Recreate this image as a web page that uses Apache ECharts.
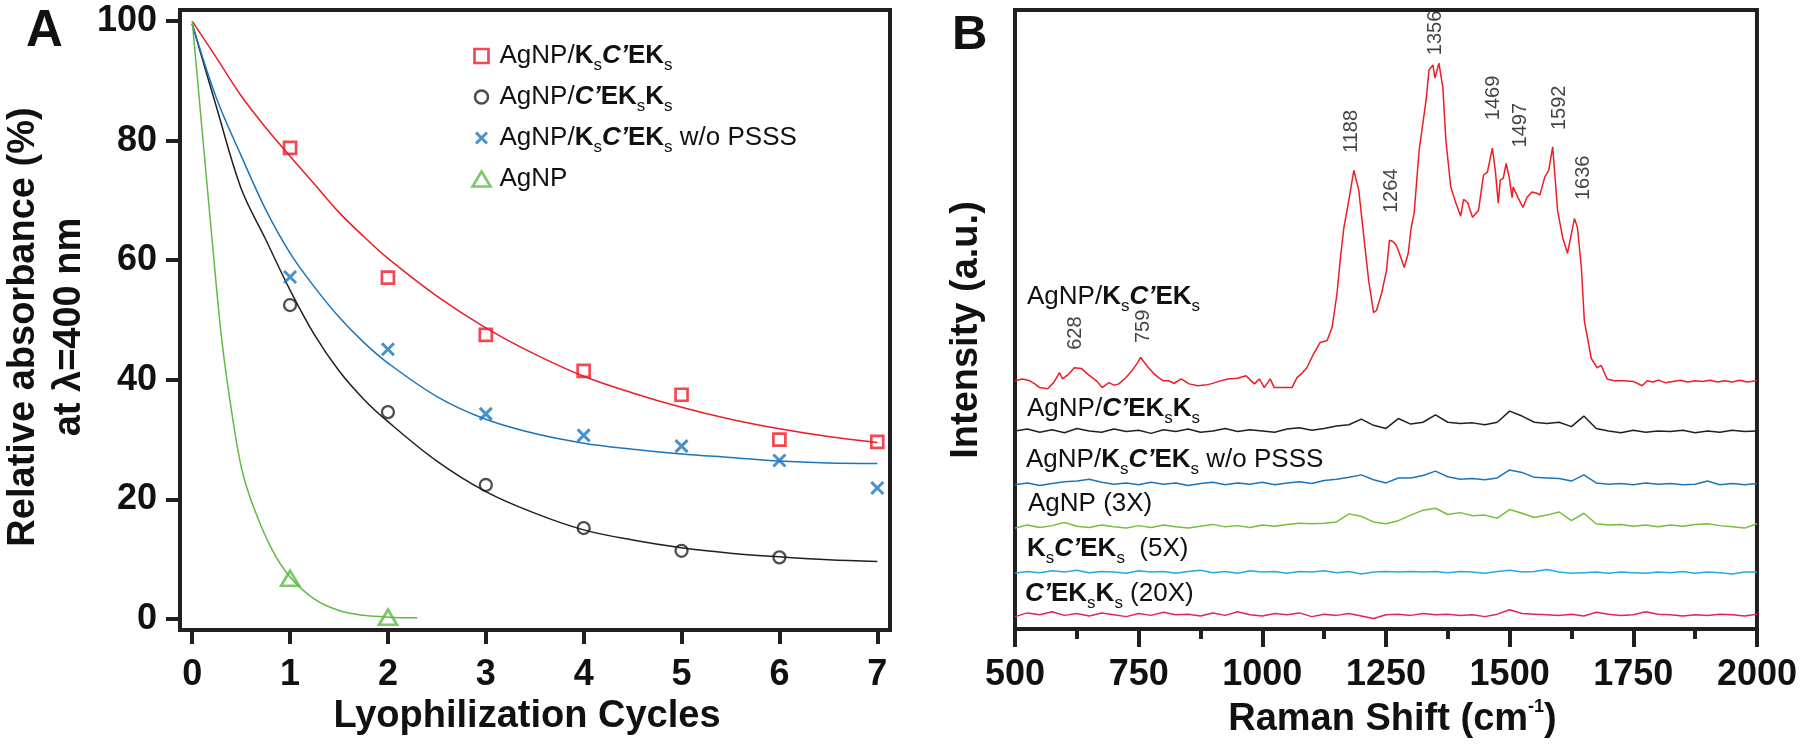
<!DOCTYPE html>
<html><head><meta charset="utf-8">
<script src="https://cdn.jsdelivr.net/npm/echarts@6/dist/echarts.min.js"></script>
<style>html,body{margin:0;padding:0;background:#fff}#c{width:1800px;height:746px}</style>
</head><body><div id="c"></div>
<script>
// ---------------- Panel A data ----------------
const cyclesTicks = [0, 1, 2, 3, 4, 5, 6, 7];
const absTicks = [0, 20, 40, 60, 80, 100];
const cyclesKsCEKs = [1, 2, 3, 4, 5, 6, 7];
const absKsCEKs = [78.8, 57.1, 47.5, 41.5, 37.5, 30.0, 29.6];
const cyclesCEKsKs = [1, 2, 3, 4, 5, 6];
const absCEKsKs = [52.5, 34.6, 22.4, 15.2, 11.4, 10.3];
const cyclesNoPSSS = [1, 2, 3, 4, 5, 6, 7];
const absNoPSSS = [57.2, 45.1, 34.3, 30.7, 28.9, 26.5, 21.9];
const cyclesAgNP = [1, 2];
const absAgNP = [6.8, 0.3];
// fitted curves
const fitX = [0, 0.25, 0.5, 0.75, 1, 1.25, 1.5, 1.75, 2, 2.5, 3, 3.5, 4, 4.5, 5, 5.5, 6, 6.5, 7];
const fitKsCEKs = [100, 93.8, 87.5, 82.2, 77.4, 72.7, 68.0, 64.0, 60.3, 54.0, 48.7, 44.3, 40.6, 37.8, 35.4, 33.4, 31.8, 30.5, 29.5];
const fitCEKsKs = [99.5, 85.5, 72.0, 63.5, 55.0, 47.5, 41.5, 36.8, 33.0, 26.4, 21.3, 17.7, 14.9, 13.2, 11.9, 11.0, 10.4, 9.9, 9.6];
const fitNoPSSS = [99.5, 87.0, 77.5, 68.5, 61.2, 55.5, 50.5, 46.3, 42.8, 37.2, 33.4, 31.0, 29.4, 28.4, 27.6, 27.0, 26.4, 26.1, 26.0];
const fitAgNPX = [0, 0.1, 0.2, 0.3, 0.4, 0.5, 0.6, 0.8, 1.0, 1.25, 1.5, 1.75, 2.0, 2.3];
const fitAgNP = [100, 82, 64, 47, 35, 25.5, 19.9, 12.1, 7.0, 3.3, 1.4, 0.6, 0.3, 0.2];

// ---------------- Panel B data ----------------
const redShift = [500,515,530,540,550,566,578,590,596,606,620,634,645,656,666,676,690,700,710,724,736,746,754,762,770,780,790,800,810,822,836,852,870,884,896,912,930,950,967,976,984,994,1004,1016,1024,1040,1060,1070,1080,1090,1104,1117,1131,1141,1151,1158,1165,1175,1185,1195,1205,1215,1225,1231,1241,1251,1257,1264,1271,1280,1287,1295,1301,1307,1317,1331,1337,1345,1349,1357,1365,1371,1381,1391,1401,1407,1415,1425,1437,1447,1455,1465,1471,1477,1481,1487,1493,1499,1505,1507,1517,1527,1535,1545,1555,1561,1571,1579,1587,1597,1607,1617,1625,1631,1637,1645,1651,1665,1677,1685,1697,1711,1730,1750,1768,1778,1790,1800,1815,1830,1845,1860,1875,1890,1905,1920,1935,1950,1965,1980,2000];
const redIntensity = [40.1,40.4,40.1,39.6,39.0,38.8,39.8,41.4,40.4,41.0,42.2,42.1,41.3,40.6,40.0,39.0,39.8,39.4,39.6,40.6,41.7,42.8,43.9,43.0,42.2,41.3,40.6,40.1,40.1,39.7,40.4,39.6,39.3,39.4,39.6,40.0,40.4,40.5,40.9,40.2,39.6,40.4,39.0,40.4,39.0,39.0,39.0,40.6,41.3,42.2,44.5,46.3,46.6,48.7,54.2,60.0,64.9,69.3,74.1,70.9,63.5,56.3,51.1,51.5,54.2,57.9,62.8,62.6,62.0,60.0,58.4,60.7,64.9,67.2,77.3,85.4,90.3,91.1,89.0,91.4,87.5,79.0,71.4,68.9,66.7,69.4,68.9,66.5,67.6,73.3,73.8,77.7,74.1,68.8,72.5,72.8,75.2,73.0,69.7,71.4,69.7,68.1,69.7,70.6,70.4,70.1,73.0,74.1,77.9,67.6,63.3,60.7,63.9,66.3,64.9,58.4,49.8,43.7,42.2,42.6,40.4,40.1,40.1,40.0,39.3,40.1,39.9,40.2,39.8,40.0,40.2,39.9,40.1,40.0,40.2,39.9,40.1,39.9,40.2,39.9,40.1];
const gridShift = [500,525,550,575,600,625,650,675,700,725,750,775,800,825,850,875,900,925,950,975,1000,1025,1050,1075,1100,1125,1150,1175,1200,1225,1250,1275,1300,1325,1350,1375,1400,1425,1450,1475,1500,1525,1550,1575,1600,1625,1650,1675,1700,1725,1750,1775,1800,1825,1850,1875,1900,1925,1950,1975,2000];
const blackIntensity = [32.0,32.3,31.8,32.2,31.7,32.4,32.0,31.8,32.3,31.9,32.1,31.6,32.2,31.9,32.3,31.8,32.0,32.4,31.9,32.2,32.0,31.8,32.3,32.5,32.1,32.4,32.8,33.0,33.9,32.9,32.4,34.0,33.1,33.4,34.6,33.4,33.2,33.3,33.0,33.4,35.2,34.4,33.4,33.2,33.4,32.7,34.4,32.4,32.0,31.7,32.1,31.8,32.0,31.9,32.1,31.7,32.0,31.8,32.1,31.9,32.0];
const blueIntensity = [23.3,23.6,23.2,23.5,23.8,23.9,24.2,23.7,23.4,23.6,23.3,23.7,23.4,23.6,23.2,23.5,23.7,23.3,23.6,23.4,23.7,23.3,23.6,23.8,23.5,24.0,24.2,24.5,24.9,24.1,23.6,24.4,24.4,24.8,25.5,24.6,24.2,24.3,24.1,24.4,25.7,25.3,24.5,24.4,24.3,23.9,24.9,23.6,23.4,23.5,23.3,23.6,23.4,23.5,23.3,23.4,23.9,23.3,23.5,23.3,23.5];
const greenIntensity = [16.3,16.8,16.4,16.7,17.2,16.6,16.4,16.8,16.5,16.3,16.7,16.4,16.8,16.5,16.3,16.6,16.9,16.5,16.7,16.4,16.8,16.6,16.9,17.1,17.0,17.1,17.3,18.6,18.2,17.3,17.0,17.5,18.4,19.2,19.5,18.5,18.8,18.3,18.4,17.9,19.3,18.7,18.0,18.4,18.9,17.5,18.7,17.0,16.8,16.9,16.6,16.8,16.5,16.8,16.6,16.9,17.0,16.7,16.5,16.3,17.0];
const cyanIntensity = [9.0,9.3,9.1,9.4,9.2,9.5,9.1,9.3,9.2,9.0,9.4,9.2,9.3,9.0,9.3,9.5,9.1,9.3,9.0,9.4,9.2,9.3,9.0,9.3,9.2,9.4,9.1,9.3,8.9,9.2,9.3,9.2,9.3,9.2,9.3,9.1,9.3,9.2,9.0,9.3,9.5,9.2,9.3,9.6,9.2,9.0,9.1,9.2,9.0,9.2,9.1,9.0,9.2,9.1,9.3,9.0,9.2,9.1,8.9,9.2,9.2];
const pinkIntensity = [2.0,2.6,2.3,2.8,2.2,2.5,2.1,2.6,2.3,2.0,2.5,2.2,2.7,2.3,2.4,2.1,2.6,2.2,2.8,2.3,2.1,2.5,2.3,2.6,2.0,2.4,2.2,2.5,2.1,1.7,2.3,2.4,2.2,2.5,2.3,2.4,2.2,2.3,2.0,2.4,3.1,2.5,2.4,2.3,2.2,2.4,2.1,2.7,2.4,2.2,2.3,2.8,2.4,2.3,2.1,2.3,2.2,2.4,2.3,2.1,2.4];
const peakShift = [628, 759, 1188, 1264, 1356, 1469, 1497, 1592, 1636];
const peakLabelShift = [622, 760, 1181, 1261, 1351, 1467, 1521, 1601, 1650];
const peakLabelBase = [45.1, 46.2, 76.9, 67.2, 92.7, 82.2, 77.8, 80.6, 69.3];
const ramanTicks = [500, 750, 1000, 1250, 1500, 1750, 2000];

// ---------------- styling ----------------
const FONT = '"Liberation Sans", Arial, Helvetica, sans-serif';
const INK = '#231f20';
const TXT = '#111111';
const RED = '#ee1c25', BLACK = '#231f20', BLUE = '#1b75bb', GREEN = '#62b946';
const GREEN_B = '#74bf3c', CYAN = '#27a8e0', PINK = '#e2245e';

const richTok = {
  n: {fontFamily: FONT, fontSize: 26, fontWeight: 'normal', lineHeight: 36, color: TXT},
  b: {fontFamily: FONT, fontSize: 26, fontWeight: 'bold', lineHeight: 36, color: TXT},
  bi: {fontFamily: FONT, fontSize: 26, fontWeight: 'bold', fontStyle: 'italic', lineHeight: 36, color: TXT},
  s: {fontFamily: FONT, fontSize: 17, fontWeight: 'normal', lineHeight: 17, verticalAlign: 'bottom', color: TXT}
};

const NAME1 = 'AgNP/KsC’EKs', NAME2 = 'AgNP/C’EKsKs', NAME3 = 'AgNP/KsC’EKs w/o PSSS', NAME4 = 'AgNP';
const legendRich = {};
legendRich[NAME1] = '{n|AgNP/}{b|K}{s|s}{bi|C’}{b|EK}{s|s}';
legendRich[NAME2] = '{n|AgNP/}{bi|C’}{b|EK}{s|s}{b|K}{s|s}';
legendRich[NAME3] = '{n|AgNP/}{b|K}{s|s}{bi|C’}{b|EK}{s|s}{n| w/o PSSS}';
legendRich[NAME4] = '{n|AgNP}';

const traceLabels = [
  {t: '{n|AgNP/}{b|K}{s|s}{bi|C’}{b|EK}{s|s}', x: 1027, y: 297},
  {t: '{n|AgNP/}{bi|C’}{b|EK}{s|s}{b|K}{s|s}', x: 1027, y: 409},
  {t: '{n|AgNP/}{b|K}{s|s}{bi|C’}{b|EK}{s|s}{n| w/o PSSS}', x: 1026, y: 460},
  {t: '{n|AgNP (3X)}', x: 1028, y: 504},
  {t: '{b|K}{s|s}{bi|C’}{b|EK}{s|s}{n|  (5X)}', x: 1027, y: 549},
  {t: '{bi|C’}{b|EK}{s|s}{b|K}{s|s}{n| (20X)}', x: 1025, y: 594}
];

// legend icons: bounding box 20x17 kept by corner moves
const ICON_SQ = 'path://M0,0M20,17M3,1.5h14v14h-14z';
const ICON_CI = 'path://M0,0M20,17M3.5,8.5a6.5,6.5 0 1,0 13,0a6.5,6.5 0 1,0 -13,0z';
const ICON_X = 'path://M0,0M20,17M4.5,3L15.5,14M15.5,3L4.5,14';
const ICON_TR = 'path://M0,0M20,17M10,1L19,16L1,16z';
const SYM_X = 'path://M0,0L10,10M10,0L0,10';

const zip = (a, b) => a.map((v, i) => [v, b[i]]);

const tickLabel = {fontFamily: FONT, fontSize: 36, fontWeight: 'bold', color: TXT};
const titleStyle = {fontFamily: FONT, fontSize: 38, fontWeight: 'bold', color: TXT};

const fitLine = (name, x, y, color) => ({
  name, type: 'line', xAxisIndex: 0, yAxisIndex: 0, data: zip(x, y), smooth: 0.35,
  symbol: 'none', lineStyle: {color, width: 1.5}, silent: true, z: 2
});
const spec = (name, x, y, color) => ({
  name, type: 'line', xAxisIndex: 1, yAxisIndex: 1, data: zip(x, y),
  symbol: 'none', lineStyle: {color, width: 1.5}, silent: true, z: 2
});

const option = {
  animation: false,
  backgroundColor: '#ffffff',
  grid: [
    {left: 160, top: 10, width: 730, height: 620, show: true, borderWidth: 4, borderColor: INK, backgroundColor: 'transparent'},
    {left: 1015, top: 10, width: 750, height: 619, show: true, borderWidth: 4, borderColor: INK, backgroundColor: 'transparent'}
  ],
  xAxis: [
    {
      type: 'value', gridIndex: 0, min: -0.125, max: 7.13,
      name: 'Lyophilization Cycles', nameLocation: 'middle', nameGap: 87,
      nameTextStyle: Object.assign({verticalAlign: 'middle', padding: [0, 16, 0, 0]}, titleStyle),
      axisLine: {onZero: false, lineStyle: {color: INK, width: 4}},
      axisTick: {show: true, length: 14, lineStyle: {color: INK, width: 4}, customValues: cyclesTicks},
      axisLabel: Object.assign({margin: 45, verticalAlign: 'middle', customValues: cyclesTicks, formatter: v => String(v)}, tickLabel),
      splitLine: {show: false}
    },
    {
      type: 'value', gridIndex: 1, min: 500, max: 2000, interval: 250,
      name: '{n|Raman Shift (cm}{sup|-1}{n|)}', nameLocation: 'middle', nameGap: 90,
      nameTextStyle: Object.assign({verticalAlign: 'middle', padding: [0, 0, 0, 13],
        rich: {n: Object.assign({lineHeight: 44}, titleStyle), sup: {fontFamily: FONT, fontSize: 18, fontWeight: 'bold', color: TXT, lineHeight: 30, verticalAlign: 'top'}}}, titleStyle),
      axisLine: {onZero: false, lineStyle: {color: INK, width: 4}},
      axisTick: {show: true, length: 18, lineStyle: {color: INK, width: 4}},
      minorTick: {show: true, splitNumber: 2, length: 10, lineStyle: {color: INK, width: 4}},
      axisLabel: Object.assign({margin: 46, verticalAlign: 'middle', customValues: ramanTicks, formatter: v => String(v)}, tickLabel),
      splitLine: {show: false}, minorSplitLine: {show: false}
    }
  ],
  yAxis: [
    {
      type: 'value', gridIndex: 0, min: -1.85, max: 101.85,
      name: 'Relative absorbance (%)\nat λ=400 nm', nameLocation: 'middle', nameRotate: 90, nameGap: 117,
      nameTextStyle: Object.assign({verticalAlign: 'middle', align: 'center', lineHeight: 46, padding: [0, 14, 0, 0]}, titleStyle),
      axisLine: {onZero: false, lineStyle: {color: INK, width: 4}},
      axisTick: {show: true, length: 14, lineStyle: {color: INK, width: 4}, customValues: absTicks},
      axisLabel: Object.assign({margin: 23, customValues: absTicks, formatter: v => String(v)}, tickLabel),
      splitLine: {show: false}
    },
    {
      type: 'value', gridIndex: 1, min: 0, max: 100,
      name: 'Intensity (a.u.)', nameLocation: 'middle', nameRotate: 90, nameGap: 48,
      nameTextStyle: Object.assign({verticalAlign: 'middle', align: 'center', padding: [0, 21, 0, 0]}, titleStyle),
      axisLine: {onZero: false, lineStyle: {color: INK, width: 4}},
      axisTick: {show: false}, axisLabel: {show: false}, splitLine: {show: false}
    }
  ],
  legend: {
    orient: 'vertical', left: 470, top: 43, padding: 0,
    itemWidth: 20, itemHeight: 17, itemGap: 10, selectedMode: false,
    formatter: name => legendRich[name],
    textStyle: {fontFamily: FONT, fontSize: 26, color: TXT, padding: [0, 0, 0, 3], rich: richTok},
    data: [
      {name: NAME1, icon: ICON_SQ, itemStyle: {color: 'transparent', borderColor: RED, borderWidth: 2.7}},
      {name: NAME2, icon: ICON_CI, itemStyle: {color: 'transparent', borderColor: BLACK, borderWidth: 2.5}},
      {name: NAME3, icon: ICON_X, itemStyle: {color: 'transparent', borderColor: BLUE, borderWidth: 3}},
      {name: NAME4, icon: ICON_TR, itemStyle: {color: 'transparent', borderColor: GREEN, borderWidth: 2.7}}
    ]
  },
  graphic: [
    {type: 'text', x: 26, y: 32, style: {text: 'A', font: 'bold 51px ' + FONT, fill: TXT, align: 'left', verticalAlign: 'middle'}},
    {type: 'text', x: 952, y: 35, style: {text: 'B', font: 'bold 49px ' + FONT, fill: TXT, align: 'left', verticalAlign: 'middle'}}
  ].concat(traceLabels.map(l => ({
    type: 'text', x: l.x, y: l.y,
    style: {text: l.t, rich: richTok, align: 'left', verticalAlign: 'middle', fontFamily: FONT, fontSize: 26, fill: TXT}
  }))),
  series: [
    fitLine('fit KsCEKs', fitX, fitKsCEKs, RED),
    fitLine('fit CEKsKs', fitX, fitCEKsKs, BLACK),
    fitLine('fit noPSSS', fitX, fitNoPSSS, BLUE),
    fitLine('fit AgNP', fitAgNPX, fitAgNP, GREEN),
    {name: NAME1, type: 'scatter', xAxisIndex: 0, yAxisIndex: 0, data: zip(cyclesKsCEKs, absKsCEKs),
      symbol: 'rect', symbolSize: 12, itemStyle: {color: 'transparent', borderColor: RED, borderWidth: 2.7}, z: 3, clip: false},
    {name: NAME2, type: 'scatter', xAxisIndex: 0, yAxisIndex: 0, data: zip(cyclesCEKsKs, absCEKsKs),
      symbol: 'circle', symbolSize: 12, itemStyle: {color: 'transparent', borderColor: BLACK, borderWidth: 2.3}, z: 3, clip: false},
    {name: NAME3, type: 'scatter', xAxisIndex: 0, yAxisIndex: 0, data: zip(cyclesNoPSSS, absNoPSSS),
      symbol: SYM_X, symbolSize: 12, itemStyle: {color: 'transparent', borderColor: BLUE, borderWidth: 3}, z: 3, clip: false},
    {name: NAME4, type: 'scatter', xAxisIndex: 0, yAxisIndex: 0, data: zip(cyclesAgNP, absAgNP),
      symbol: 'triangle', symbolSize: [18, 15], itemStyle: {color: 'transparent', borderColor: GREEN, borderWidth: 2.7}, z: 3, clip: false},
    spec('AgNP/KsC’EKs spectrum', redShift, redIntensity, RED),
    spec('AgNP/C’EKsKs spectrum', gridShift, blackIntensity, BLACK),
    spec('w/o PSSS spectrum', gridShift, blueIntensity, BLUE),
    spec('AgNP (3X) spectrum', gridShift, greenIntensity, GREEN_B),
    spec('KsC’EKs (5X) spectrum', gridShift, cyanIntensity, CYAN),
    spec('C’EKsKs (20X) spectrum', gridShift, pinkIntensity, PINK),
    {
      name: 'peak labels', type: 'scatter', xAxisIndex: 1, yAxisIndex: 1, silent: true,
      data: peakLabelShift.map((x, i) => [x, peakLabelBase[i], peakShift[i]]),
      symbol: 'circle', symbolSize: 1, itemStyle: {color: 'transparent'},
      label: {show: true, position: 'inside', rotate: 90, align: 'left', verticalAlign: 'middle',
        formatter: p => String(p.value[2]), fontFamily: FONT, fontSize: 20, color: TXT}, z: 4
    }
  ]
};

const chart = echarts.init(document.getElementById('c'));
chart.setOption(option);
</script>
</body></html>
